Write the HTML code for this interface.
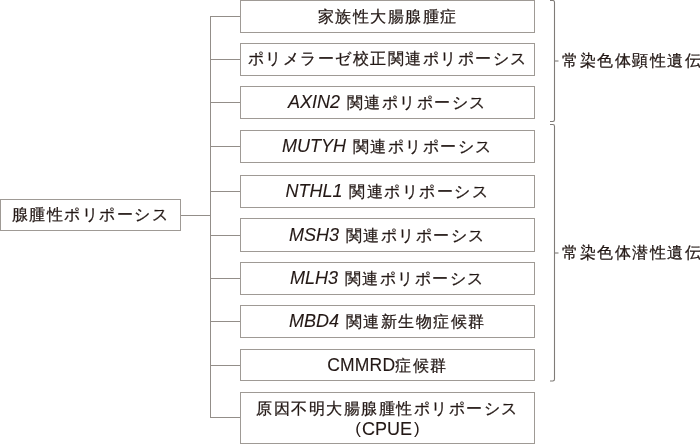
<!DOCTYPE html>
<html lang="ja">
<head>
<meta charset="utf-8">
<style>
html,body{margin:0;padding:0;background:#fff;}
.box,.lab{will-change:transform;}
body{width:700px;height:444px;position:relative;overflow:hidden;font-family:"Liberation Sans",sans-serif;font-size:16px;color:#231815;letter-spacing:1.5px;-webkit-text-stroke:0.25px #231815;}
.box{position:absolute;box-sizing:border-box;border:1px solid #9f9a95;background:#fff;display:flex;align-items:center;justify-content:center;text-align:center;white-space:nowrap;line-height:20px;}
.r{left:240px;width:295px;height:33px;}
.h{position:absolute;height:1px;background:#938e89;}
.v{position:absolute;width:1px;background:#938e89;}
i{font-style:italic;font-size:18px;letter-spacing:0;margin-right:1px;-webkit-text-stroke:0.1px #231815;}
.l{font-size:17.5px;letter-spacing:0.2px;-webkit-text-stroke:0.1px #231815;}
.lab{position:absolute;left:562px;white-space:nowrap;line-height:20px;}
</style>
</head>
<body>
<!-- left box -->
<div class="box" style="left:0;top:199px;width:181px;height:32px;">腺腫性ポリポーシス</div>
<div class="h" style="left:181px;width:29px;top:215px;"></div>
<!-- trunk -->
<div class="v" style="left:210px;top:16px;height:402px;"></div>
<!-- connectors -->
<div class="h" style="left:210px;width:30px;top:16px;"></div>
<div class="h" style="left:210px;width:30px;top:59px;"></div>
<div class="h" style="left:210px;width:30px;top:102px;"></div>
<div class="h" style="left:210px;width:30px;top:146px;"></div>
<div class="h" style="left:210px;width:30px;top:191px;"></div>
<div class="h" style="left:210px;width:30px;top:235px;"></div>
<div class="h" style="left:210px;width:30px;top:278px;"></div>
<div class="h" style="left:210px;width:30px;top:321px;"></div>
<div class="h" style="left:210px;width:30px;top:365px;"></div>
<div class="h" style="left:210px;width:30px;top:417px;"></div>
<!-- right boxes -->
<div class="box r" style="top:0;">家族性大腸腺腫症</div>
<div class="box r" style="top:43px;"><span style="position:relative;top:-1px;">ポリメラーゼ校正関連ポリポーシス</span></div>
<div class="box r" style="top:86px;"><span><i>AXIN2</i> 関連ポリポーシス</span></div>
<div class="box r" style="top:130px;"><span><i>MUTYH</i> 関連ポリポーシス</span></div>
<div class="box r" style="top:175px;"><span><i>NTHL1</i> 関連ポリポーシス</span></div>
<div class="box r" style="top:218px;height:34px;"><span><i>MSH3</i> 関連ポリポーシス</span></div>
<div class="box r" style="top:262px;"><span><i>MLH3</i> 関連ポリポーシス</span></div>
<div class="box r" style="top:305px;"><span><i>MBD4</i> 関連新生物症候群</span></div>
<div class="box r" style="top:349px;height:32px;"><span><span class="l">CMMRD</span>症候群</span></div>
<div class="box r" style="top:392px;height:52px;flex-direction:column;line-height:21px;"><span style="position:relative;top:1px;">原因不明大腸腺腫性ポリポーシス</span><span class="l" style="position:relative;top:1px;font-size:18px;letter-spacing:0;"><span style="font-size:17px;position:relative;top:-1px;margin-right:1px;-webkit-text-stroke:0;">(</span>CPUE<span style="font-size:17px;position:relative;top:-1px;margin-left:2px;-webkit-text-stroke:0;">)</span></span></div>
<!-- brackets -->
<svg width="700" height="444" style="position:absolute;left:0;top:0;">
<g fill="none" stroke="#7f7b77" stroke-width="1.1">
<path d="M550,0.5 H552.8 Q554.5,0.5 554.5,2.2 V119.8 Q554.5,121.5 552.8,121.5 H550"/>
<path d="M554.5,61 H558.5"/>
<path d="M550,124.5 H552.8 Q554.5,124.5 554.5,126.2 V379.3 Q554.5,381 552.8,381 H550"/>
<path d="M554.5,253 H558.5"/>
</g>
</svg>
<div class="lab" style="top:51px;">常染色体顕性遺伝</div>
<div class="lab" style="top:243px;">常染色体潜性遺伝</div>
</body>
</html>
